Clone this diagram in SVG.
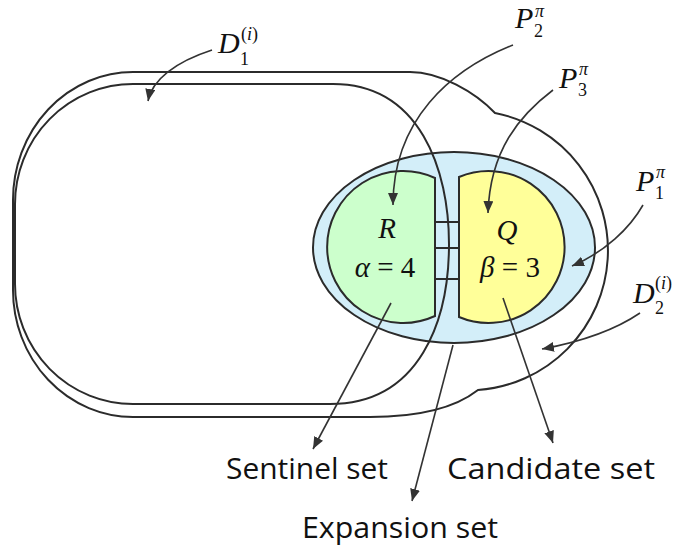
<svg xmlns="http://www.w3.org/2000/svg" width="679" height="551" viewBox="0 0 679 551">
<defs>
<marker id="ah" markerUnits="userSpaceOnUse" markerWidth="14" markerHeight="12" refX="12" refY="5" orient="auto">
<path d="M0,0 L12,5 L0,10 Z" fill="#333"/>
</marker>
<style>
.ol{fill:none;stroke:#2b2b2b;stroke-width:2}
.con{fill:none;stroke:#333;stroke-width:1.6;marker-end:url(#ah)}
.m{font-family:"Liberation Serif","DejaVu Serif",serif;fill:#111}
.mi{font-style:italic}
.s{font-size:18px}
.lab{font-family:"Open Sans","Lato",sans-serif;font-size:29px;fill:#111}
</style>
</defs>
<rect width="679" height="551" fill="#fff"/>
<g id="D2">
<path class="ol" d="M13,200 A120,128 0 0 1 133,72 H410 C440,72 475,92 495,113 A140,140 0 0 1 478,390 C455,408 420,417 370,417 H133 A120,127 0 0 1 13,290 Z"/>
</g>
<g id="expansion">
<ellipse cx="454" cy="247.5" rx="141" ry="95.5" fill="#d3eef9" stroke="#2b2b2b" stroke-width="2"/>
</g>
<g id="sentinel">
<path d="M435,178 A76,76 0 1 0 435,316 Z" fill="#ccffcc" stroke="#2b2b2b" stroke-width="2"/>
<text class="m mi" x="387" y="238" font-size="29" text-anchor="middle">R</text>
<text class="m" x="385" y="277" font-size="29" text-anchor="middle"><tspan class="mi">α</tspan> = 4</text>
</g>
<g id="candidate">
<path d="M459,177 A76,76 0 1 1 459,317 Z" fill="#ffff99" stroke="#2b2b2b" stroke-width="2"/>
<text class="m mi" x="507" y="240" font-size="29" text-anchor="middle">Q</text>
<text class="m" x="510" y="277" font-size="29" text-anchor="middle"><tspan class="mi">β</tspan> = 3</text>
</g>
<g id="ladder">
<path class="ol" d="M435,222 H459 M435,248 H459 M435,279 H459"/>
</g>
<g id="D1">
<path class="ol" d="M15,204 A118,120 0 0 1 133,84 H333 C420,84 449,170 449,244 C449,320 420,404 330,404 H133 A118,120 0 0 1 15,284 Z"/>
</g>
<g id="connectors">
<path class="con" d="M212,50 C175,62 152,80 148,101"/>
<path class="con" d="M513,45 C450,70 393,120 393,205"/>
<path class="con" d="M553,90 C520,115 490,150 488,213"/>
<path class="con" d="M643,205 C630,228 605,252 572,266"/>
<path class="con" d="M640,313 C615,330 580,342 542,349"/>
<path class="con" d="M391,303 L313,449"/>
<path class="con" d="M453,345 L412,501"/>
<path class="con" d="M503,298 L553,443"/>
</g>
<g id="labels">
<text class="m" font-size="30"><tspan class="mi" x="218" y="53">D</tspan><tspan class="s" x="240" y="65">1</tspan><tspan class="s" x="241" y="40">(</tspan><tspan class="s mi">i</tspan><tspan class="s">)</tspan></text>
<text class="m" font-size="30"><tspan class="mi" x="515" y="28">P</tspan><tspan class="s" x="534" y="37">2</tspan><tspan class="s mi" x="535" y="17">π</tspan></text>
<text class="m" font-size="30"><tspan class="mi" x="559" y="88">P</tspan><tspan class="s" x="578" y="96">3</tspan><tspan class="s mi" x="579" y="75">π</tspan></text>
<text class="m" font-size="30"><tspan class="mi" x="636" y="191">P</tspan><tspan class="s" x="655" y="199">1</tspan><tspan class="s mi" x="656" y="178">π</tspan></text>
<text class="m" font-size="30"><tspan class="mi" x="633" y="303">D</tspan><tspan class="s" x="655" y="314">2</tspan><tspan class="s" x="655" y="289">(</tspan><tspan class="s mi">i</tspan><tspan class="s">)</tspan></text>
<text class="lab" x="226" y="479" textLength="162" lengthAdjust="spacingAndGlyphs">Sentinel set</text>
<text class="lab" x="447" y="479" textLength="208" lengthAdjust="spacingAndGlyphs">Candidate set</text>
<text class="lab" x="302" y="538" textLength="196" lengthAdjust="spacingAndGlyphs">Expansion set</text>
</g>
</svg>
